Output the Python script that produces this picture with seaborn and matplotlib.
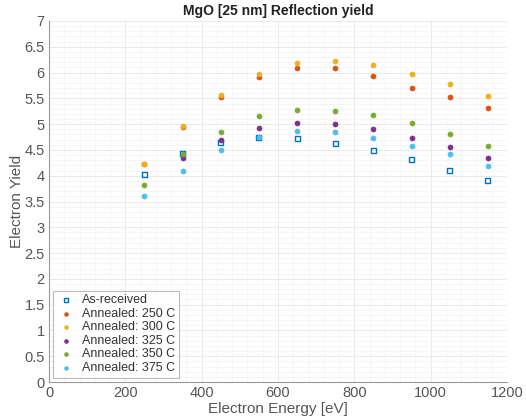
import numpy as np
import pandas as pd
import matplotlib
matplotlib.use("Agg")
import matplotlib.pyplot as plt
from matplotlib.ticker import MultipleLocator
import seaborn as sns

# electron energy [eV]
energy = [250, 350, 450, 550, 650, 750, 850, 950, 1050, 1150]

as_received = [4.03, 4.43, 4.64, 4.75, 4.73, 4.62, 4.48, 4.31, 4.11, 3.91]
ann_250 = [4.22, 4.95, 5.52, 5.91, 6.08, 6.09, 5.94, 5.71, 5.52, 5.31]
ann_300 = [4.23, 4.97, 5.57, 5.98, 6.18, 6.23, 6.14, 5.97, 5.78, 5.55]
ann_325 = [np.nan, 4.34, 4.70, 4.93, 5.02, 5.00, 4.90, 4.74, 4.55, 4.34]
ann_350 = [3.82, 4.43, 4.85, 5.15, 5.28, 5.26, 5.17, 5.02, 4.80, 4.58]
ann_375 = [3.60, 4.10, 4.49, 4.75, 4.86, 4.84, 4.74, 4.58, 4.42, 4.19]

labels = ["As-received", "Annealed: 250 C", "Annealed: 300 C",
          "Annealed: 325 C", "Annealed: 350 C", "Annealed: 375 C"]
series = [as_received, ann_250, ann_300, ann_325, ann_350, ann_375]
colors = ["#0072BD", "#D95319", "#EDB120", "#7E2F8E", "#77AC30", "#4DBEEE"]

sns.set_style("white")
plt.rcParams["font.family"] = ["Liberation Sans", "DejaVu Sans"]

fig = plt.figure(figsize=(5.26, 4.18), dpi=100)
ax = fig.add_axes([49 / 526, 1 - 382 / 418, 458 / 526, 361 / 418])

for lab, vals, col in zip(labels, series, colors):
    df = pd.DataFrame({"energy": energy, "yield": vals})
    if lab == "As-received":
        sns.scatterplot(data=df, x="energy", y="yield", ax=ax, marker="s", s=13,
                        facecolor="none", edgecolor=col, linewidth=1.0, label=lab)
    else:
        sns.scatterplot(data=df, x="energy", y="yield", ax=ax, marker="o", s=13,
                        color=col, edgecolor=col, linewidth=0.5, label=lab)

ax.set_xlim(0, 1200)
ax.set_ylim(0, 7)
ax.xaxis.set_major_locator(MultipleLocator(200))
ax.xaxis.set_minor_locator(MultipleLocator(40))
ax.yaxis.set_minor_locator(MultipleLocator(0.1))
ax.set_yticks(np.arange(0, 7.01, 0.5))
ax.set_yticklabels(["0", "0.5", "1", "1.5", "2", "2.5", "3", "3.5", "4",
                    "4.5", "5", "5.5", "6", "6.5", "7"])
ax.grid(True, which="major", color="#e6e6e6", linewidth=0.6)
ax.grid(True, which="minor", color="#f3f3f3", linewidth=0.5)
ax.set_axisbelow(True)

for side in ["top", "right"]:
    ax.spines[side].set_visible(False)
for side in ["left", "bottom"]:
    ax.spines[side].set_color("#999999")
    ax.spines[side].set_linewidth(0.8)
ax.tick_params(axis="both", which="major", direction="in", length=3,
               color="#999999", labelcolor="#555555", labelsize=10.5, pad=3)
ax.tick_params(axis="both", which="minor", length=0)

ax.set_xlabel("Electron Energy [eV]", fontsize=11, color="#555555", labelpad=1)
ax.set_ylabel("Electron Yield", fontsize=11, color="#555555", labelpad=0)
ax.set_title("MgO [25 nm] Reflection yield", fontsize=10, fontweight="bold",
             color="#222222", pad=4)

leg = ax.legend(loc="lower left", fontsize=9, frameon=True, fancybox=False,
                borderpad=0.3, labelspacing=0.12, handletextpad=0.6,
                handlelength=1.4, borderaxespad=0.35, markerscale=0.75)
leg.get_frame().set_edgecolor("#aaaaaa")
leg.get_frame().set_linewidth(0.8)
for t in leg.get_texts():
    t.set_color("#333333")

fig.savefig("out.png", dpi=100)
